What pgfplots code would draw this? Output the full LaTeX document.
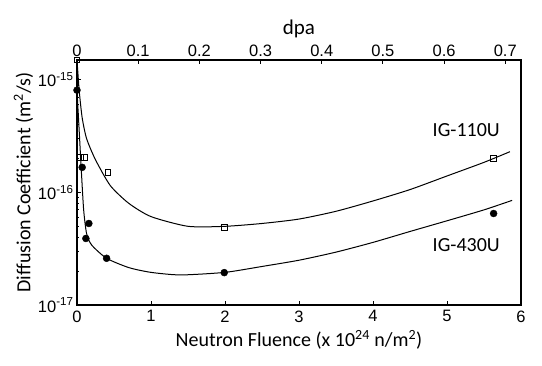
\documentclass[border=0pt]{standalone}
\usepackage{pgfplots}
\pgfplotsset{compat=1.18}
\usepackage{fontspec}
\setmainfont{Carlito}
\newfontfamily\tickfont{Liberation Sans}
\begin{document}
\begin{tikzpicture}
\path[use as bounding box] (-77pt,-61pt) rectangle (465pt,305pt);
\begin{axis}[
  at={(0,0)}, anchor=south west,
  width=444pt, height=245pt, scale only axis,
  xmin=0, xmax=6, ymode=log, ymin=1e-17, ymax=1.5e-15,
  xtick={0,1,2,3,4,5,6}, xtick pos=lower, ytick pos=left,
  ytick={1e-17,1e-16,1e-15},
  yticklabels={10\textsuperscript{-17},10\textsuperscript{-16},10\textsuperscript{-15}},
  /pgf/number format/assume math mode=true,
  ticklabel style={font=\tickfont\fontsize{16.5}{16.5}\selectfont},
  xticklabel style={yshift=-2pt},
  major tick length=4pt, minor tick length=2.5pt,
  tick style={black, line width=0.9pt},
  axis line style={line width=1.2pt},
  xlabel={Neutron Fluence (x 10\textsuperscript{24} n/m\textsuperscript{2})},
  ylabel={Diffusion Coefficient (m\textsuperscript{2}/s)},
  label style={font=\fontsize{20}{20}\selectfont},
  xlabel style={yshift=-1pt},
  ylabel style={yshift=-2pt},
  clip=false,
]
% fitted curves
\addplot[black, line width=1pt, smooth, tension=0.4] coordinates {
 (0,1.5e-15) (0.03,8e-16) (0.07,4.6e-16) (0.13,3e-16) (0.25,1.95e-16) (0.45,1.15e-16)
 (0.7,8e-17) (1.0,6.1e-17) (1.5,5e-17) (2.0,5e-17) (2.5,5.3e-17) (3.0,5.8e-17)
 (3.5,6.8e-17) (4.0,8.4e-17) (4.5,1.06e-16) (5.0,1.4e-16) (5.5,1.85e-16) (5.85,2.3e-16)};
\addplot[black, line width=1pt, smooth, tension=0.4] coordinates {
 (0,8e-16) (0.03,3.5e-16) (0.06,1.5e-16) (0.09,7e-17) (0.13,4.3e-17) (0.2,3.4e-17)
 (0.4,2.6e-17) (0.7,2.15e-17) (1.0,1.95e-17) (1.4,1.85e-17) (2.0,1.95e-17)
 (2.5,2.2e-17) (3.0,2.5e-17) (3.5,2.95e-17) (4.0,3.6e-17) (4.5,4.5e-17)
 (5.0,5.6e-17) (5.5,7e-17) (5.88,8.5e-17)};
% IG-110U data
\addplot[only marks, mark=square, mark size=2.8pt, black, line width=0.9pt] coordinates {
 (0,1.5e-15) (0.05,2.05e-16) (0.1,2.05e-16) (0.42,1.5e-16) (1.99,4.9e-17) (5.63,2.0e-16)};
% IG-430U data
\addplot[only marks, mark=*, mark size=3.5pt, black] coordinates {
 (0,8.1e-16) (0.07,1.67e-16) (0.16,5.3e-17) (0.12,3.9e-17) (0.4,2.6e-17) (1.99,1.94e-17) (5.63,6.5e-17)};
\node[font=\fontsize{20}{20}\selectfont] at (axis cs:5.26,3.6e-16) {IG-110U};
\node[font=\fontsize{20}{20}\selectfont] at (axis cs:5.26,3.4e-17) {IG-430U};
\end{axis}
\begin{axis}[
  at={(0,0)}, anchor=south west,
  width=444pt, height=245pt, scale only axis,
  xmin=0, xmax=0.7257, ymin=0, ymax=1,
  axis x line*=top, axis y line=none,
  xtick={0,0.1,0.2,0.3,0.4,0.5,0.6,0.7},
  xticklabel style={/pgf/number format/fixed},
  /pgf/number format/assume math mode=true,
  ticklabel style={font=\tickfont\fontsize{16.5}{16.5}\selectfont},
  major tick length=4pt,
  tick style={black, line width=0.9pt},
  axis line style={line width=1.2pt},
  xlabel={dpa},
  label style={font=\fontsize{21}{21}\selectfont},
]
\end{axis}
\end{tikzpicture}
\end{document}
